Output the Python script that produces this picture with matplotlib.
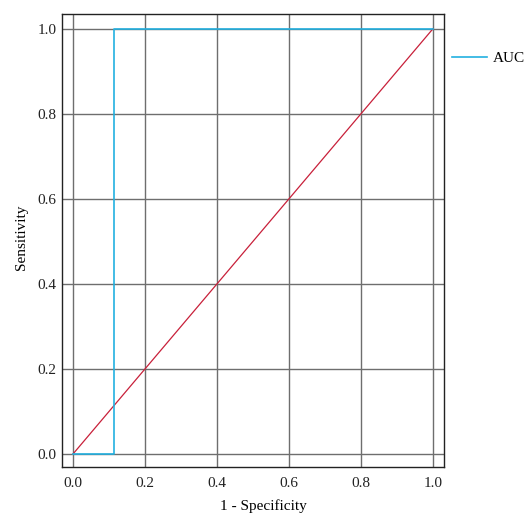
import matplotlib.pyplot as plt

# roc curve points
fpr = [0.0, 0.114, 0.114, 1.0]
tpr = [0.0, 0.0, 1.0, 1.0]
diag = [0.0, 1.0]
ticks = [0.0, 0.2, 0.4, 0.6, 0.8, 1.0]

plt.rcParams['font.family'] = ['Liberation Serif', 'DejaVu Serif']

fig = plt.figure(figsize=(5.27, 5.14), dpi=100)
ax = fig.add_axes([62/527, 1-467/514, (444-62)/527, (467-14)/514])

ax.plot(diag, diag, color='#c8203a', lw=0.9)
ax.plot(fpr, tpr, color='#22b0e0', lw=1.2, label='AUC')

ax.set_xlim(-0.031, 1.031)
ax.set_ylim(-0.031, 1.035)
ax.set_xticks(ticks)
ax.set_yticks(ticks)
ax.set_xticklabels(['%.1f' % t for t in ticks])
ax.set_yticklabels(['%.1f' % t for t in ticks])
ax.tick_params(length=0, labelsize=11, colors='#222222')
ax.tick_params(axis='x', pad=7)
ax.tick_params(axis='y', pad=4)
ax.grid(True, color='#6e6e6e', lw=1.0)
ax.set_axisbelow(True)
for s in ax.spines.values():
    s.set_color('#222222')
    s.set_linewidth(1.0)

ax.set_xlabel('1 - Specificity', fontsize=11, labelpad=7)
ax.set_ylabel('Sensitivity', fontsize=11, labelpad=7)
ax.xaxis.label.set_x(0.526)
ax.yaxis.label.set_y(0.508)

fig.legend(handles=ax.get_lines()[1:], loc='center left',
           bbox_to_anchor=(452/527, 1-58/514), frameon=False,
           fontsize=11, handlelength=2.3, handletextpad=0.4,
           borderpad=0, borderaxespad=0)

fig.savefig('out.png', dpi=100)
